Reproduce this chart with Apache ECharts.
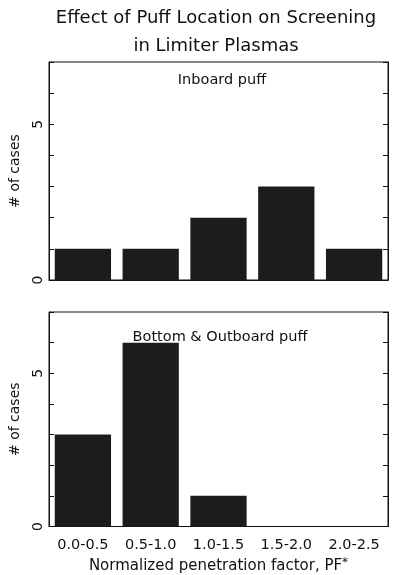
<!DOCTYPE html>
<html>
<head>
<meta charset="utf-8">
<script src="https://cdn.jsdelivr.net/npm/echarts@6/dist/echarts.min.js"></script>
<style>
  html, body { margin: 0; padding: 0; background: #fff; }
  #main { width: 405px; height: 575px; }
</style>
</head>
<body>
<div id="main"></div>
<script>
var categories = ['0.0-0.5', '0.5-1.0', '1.0-1.5', '1.5-2.0', '2.0-2.5'];
var inboardCases = [1, 1, 2, 3, 1];
var bottomOutboardCases = [3, 6, 1, 0, 0];
var yShownLabels = [0, 5];

var chart = echarts.init(document.getElementById('main'));

var font = 'DejaVu Sans';

function leftAxis(grid) {
    return {
        type: 'value', gridIndex: grid, min: 0, max: 7, interval: 1,
        name: '# of cases', nameLocation: 'middle', nameRotate: 90, nameGap: 27,
        nameTextStyle: { fontFamily: font, fontSize: 14, color: '#111' },
        axisLine: { show: true, lineStyle: { color: '#111', width: 1 } },
        axisTick: { show: true, inside: true, length: 5, lineStyle: { color: '#111' } },
        axisLabel: {
            rotate: 90, margin: 4, fontFamily: font, fontSize: 14, color: '#111',
            formatter: function (v) { return yShownLabels.indexOf(v) >= 0 ? String(v) : ''; }
        },
        splitLine: { show: false }
    };
}

function rightAxis(grid) {
    return {
        type: 'value', gridIndex: grid, position: 'right', min: 0, max: 7, interval: 1,
        axisLine: { show: true, lineStyle: { color: '#111', width: 1 } },
        axisTick: { show: true, inside: true, length: 5, lineStyle: { color: '#111' } },
        axisLabel: { show: false },
        splitLine: { show: false }
    };
}

var option = {
    animation: false,
    backgroundColor: '#fff',
    title: [
        {
            text: 'Effect of Puff Location on Screening\nin Limiter Plasmas',
            left: 211, top: -1, textAlign: 'center',
            textStyle: { fontFamily: font, fontSize: 18, fontWeight: 'normal', color: '#111', lineHeight: 28 }
        },
        {
            text: 'Inboard puff', left: 217, top: 68, textAlign: 'center',
            textStyle: { fontFamily: font, fontSize: 14.5, fontWeight: 'normal', color: '#111' }
        },
        {
            text: 'Bottom & Outboard puff', left: 215, top: 325, textAlign: 'center',
            textStyle: { fontFamily: font, fontSize: 14.5, fontWeight: 'normal', color: '#111' }
        }
    ],
    grid: [
        { left: 49, right: 17, top: 62, height: 218, show: true, borderColor: '#111', borderWidth: 1 },
        { left: 49, right: 17, top: 312, height: 219, show: true, borderColor: '#111', borderWidth: 1 }
    ],
    xAxis: [
        {
            type: 'category', gridIndex: 0, data: categories,
            axisLine: { lineStyle: { color: '#111' } },
            axisTick: { show: false }, axisLabel: { show: false }
        },
        {
            type: 'category', gridIndex: 1, data: categories,
            name: 'Normalized penetration factor, PF{s|*}', nameLocation: 'middle', nameGap: 30,
            nameTextStyle: {
                fontFamily: font, fontSize: 15, color: '#111',
                rich: { s: { fontFamily: font, fontSize: 12, verticalAlign: 'top', padding: [0, 0, 8, 0] } }
            },
            axisLine: { lineStyle: { color: '#111' } },
            axisTick: { show: false },
            axisLabel: { interval: 0, hideOverlap: false, fontFamily: font, fontSize: 14.5, color: '#111', margin: 11 }
        }
    ],
    yAxis: [leftAxis(0), rightAxis(0), leftAxis(1), rightAxis(1)],
    series: [
        {
            type: 'bar', xAxisIndex: 0, yAxisIndex: 0, data: inboardCases,
            barCategoryGap: '17%', itemStyle: { color: '#1c1c1c' }
        },
        {
            type: 'bar', xAxisIndex: 1, yAxisIndex: 2, data: bottomOutboardCases,
            barCategoryGap: '17%', itemStyle: { color: '#1c1c1c' }
        }
    ]
};

chart.setOption(option);

window.onresize = chart.resize;
</script>
</body>
</html>
